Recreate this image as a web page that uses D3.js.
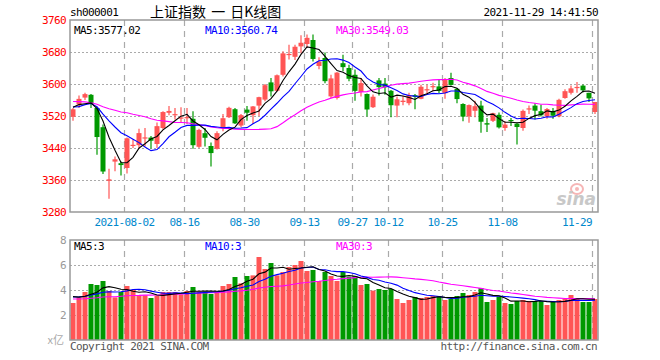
<!DOCTYPE html>
<html><head><meta charset="utf-8">
<script src="https://cdn.jsdelivr.net/npm/d3@7"></script>
<style>
html,body{margin:0;padding:0;background:#fff;}
svg{display:block;}
.mono{font-family:"DejaVu Sans Mono","Liberation Mono",monospace;font-size:11px;letter-spacing:-0.6px;}
</style></head>
<body>
<svg id="c" width="660" height="360"></svg>
<script>
const dates = ["2021-07-20","2021-07-21","2021-07-22","2021-07-23","2021-07-26","2021-07-27","2021-07-28","2021-07-29","2021-07-30",
"2021-08-02","2021-08-03","2021-08-04","2021-08-05","2021-08-06","2021-08-09","2021-08-10","2021-08-11","2021-08-12","2021-08-13",
"2021-08-16","2021-08-17","2021-08-18","2021-08-19","2021-08-20","2021-08-23","2021-08-24","2021-08-25","2021-08-26","2021-08-27",
"2021-08-30","2021-08-31","2021-09-01","2021-09-02","2021-09-03","2021-09-06","2021-09-07","2021-09-08","2021-09-09","2021-09-10",
"2021-09-13","2021-09-14","2021-09-15","2021-09-16","2021-09-17","2021-09-22","2021-09-23","2021-09-24",
"2021-09-27","2021-09-28","2021-09-29","2021-09-30","2021-10-08","2021-10-11",
"2021-10-12","2021-10-13","2021-10-14","2021-10-15","2021-10-18","2021-10-19","2021-10-20","2021-10-21","2021-10-22",
"2021-10-25","2021-10-26","2021-10-27","2021-10-28","2021-10-29","2021-11-01","2021-11-02","2021-11-03","2021-11-04","2021-11-05",
"2021-11-08","2021-11-09","2021-11-10","2021-11-11","2021-11-12","2021-11-15","2021-11-16","2021-11-17","2021-11-18","2021-11-19",
"2021-11-22","2021-11-23","2021-11-24","2021-11-25","2021-11-26","2021-11-29"];

const open = [3518,3549,3566,3573,3540,3492,3358,3406,3402,3390,3446,3447,3464,3466,3450,3490,3528,3523,3515,3516,
3513,3443,3477,3445,3438,3490,3517,3537,3496,3536,3522,3546,3561,3604,3583,3623,3673,3668,3694,3700,
3710,3645,3665,3569,3565,3652,3640,3623,3580,3575,3542,3609,3601,3583,3546,3555,3552,3572,3563,3584,
3592,3594,3577,3615,3588,3550,3519,3533,3546,3502,3508,3523,3490,3510,3501,3490,3537,3546,3532,3519,
3532,3519,3565,3578,3590,3596,3578,3530];
const high = [3540,3571,3578,3575,3542,3499,3388,3419,3406,3466,3461,3488,3490,3470,3504,3532,3545,3540,3542,3540,
3532,3488,3490,3454,3482,3525,3543,3540,3525,3545,3545,3568,3600,3615,3624,3682,3698,3698,3722,3724,
3724,3667,3679,3623,3630,3673,3648,3636,3615,3576,3574,3615,3615,3585,3569,3570,3578,3575,3598,3598,
3603,3611,3615,3628,3590,3552,3549,3558,3558,3515,3528,3529,3507,3515,3503,3536,3546,3552,3548,3540,
3540,3563,3587,3596,3605,3599,3578,3555];
const low = [3508,3540,3560,3540,3423,3375,3313,3382,3371,3376,3440,3440,3444,3439,3440,3486,3522,3511,3503,3500,
3438,3440,3444,3394,3436,3482,3515,3500,3492,3508,3500,3520,3557,3569,3581,3619,3661,3660,3677,3690,
3656,3637,3602,3565,3561,3632,3607,3558,3569,3519,3540,3571,3573,3517,3517,3547,3547,3537,3562,3573,
3582,3577,3563,3596,3552,3507,3503,3517,3478,3480,3505,3489,3483,3495,3449,3483,3525,3511,3519,3513,
3513,3517,3563,3574,3578,3579,3555,3525];
const close = [3536.79,3562.77,3574.73,3550.40,3467.44,3381.18,3361.59,3411.72,3397.36,3464.29,3447.99,3477.22,3466.56,3458.23,3494.63,
3529.93,3532.62,3524.74,3516.30,3517.34,3446.98,3485.29,3465.55,3427.33,3477.13,3514.47,3540.38,3501.66,3522.16,3528.15,
3543.94,3567.10,3597.04,3581.73,3621.86,3676.59,3675.19,3693.13,3703.11,3715.37,3662.60,3656.22,3607.09,3613.97,3628.49,
3642.22,3613.07,3582.83,3602.22,3536.29,3568.17,3592.17,3591.71,3546.94,3561.76,3558.28,3572.37,3568.14,3593.15,3587.00,
3594.78,3582.60,3609.86,3597.64,3562.31,3518.42,3547.34,3544.48,3505.63,3498.54,3526.87,3491.57,3498.63,3507.00,3492.46,
3532.79,3539.10,3533.30,3521.79,3537.37,3520.71,3560.37,3582.08,3589.09,3592.70,3584.18,3564.09,3555.04];
const volume = [2.96,3.41,3.84,4.48,4.40,4.72,3.92,3.41,3.84,4.32,4.00,3.55,3.57,3.36,3.55,3.84,3.84,3.84,3.65,3.92,
4.24,3.87,3.87,3.68,3.87,4.32,4.48,5.04,4.53,5.12,5.17,6.64,5.68,6.16,5.17,5.44,5.84,6.00,6.32,5.52,
5.60,4.72,5.44,5.12,4.72,5.44,5.07,5.12,4.40,4.48,3.95,4.08,4.00,4.08,3.28,2.96,3.20,3.44,3.36,3.44,
3.52,3.52,3.20,3.28,3.52,3.76,3.60,3.84,4.16,3.04,3.20,3.47,2.96,2.88,3.12,3.20,3.12,3.12,3.12,2.80,
3.04,3.20,3.28,3.60,3.36,3.04,3.04,3.28];
// closes and volumes of the 29 sessions before the first candle (used only for the moving averages)
const prevCloses = [3580.11,3591.40,3610.86,3589.75,3556.56,3518.33,3525.10,3525.10,3529.18,3557.41,3566.65,3566.22,3607.56,3606.37,3573.18,
3591.20,3588.78,3518.76,3534.32,3530.26,3553.72,3525.50,3524.09,3547.84,3566.42,3528.50,3564.59,3539.30,3539.12];
const prevVolumes = [3.3,3.2,3.4,3.1,3.0,3.3,3.2,2.9,3.1,3.2,3.3,3.0,3.4,3.3,3.1,3.2,3.5,3.1,3.2,3.0,3.4,3.5,3.3,3.5,3.4,3.6,3.5,3.7,3.6];

const priceTicks = [3760,3680,3600,3520,3440,3360,3280];
const volTicks = [8,6,4,2];
const tickDates = ["2021-08-02","2021-08-16","2021-08-30","2021-09-13","2021-09-27","2021-10-12","2021-10-25","2021-11-08","2021-11-29"];
const tickLabels = ["2021-08-02","08-16","08-30","09-13","09-27","10-12","10-25","11-08","11-29"];
const maPeriods = [5,10,30];
const maColors = ["#000000","#0000ff","#ff00ff"];

const svg = d3.select("#c");
const RED = "#ff5555", GREEN = "#009900", GRID = "#aaaaaa", FRAME = "#999999";
const L = 70, R = 598, T1 = 20, B1 = 212, T2 = 240, B2 = 340;

const x = d3.scaleBand().domain(dates).range([L + 0.5, R + 0.5]).padding(0);
const y = d3.scaleLinear().domain([3280, 3760]).range([B1, T1]);
const yv = d3.scaleLinear().domain([0, 8]).range([B2, T2]);
const cx = d => x(d) + 2.5;

function ma(series, prev, n) {
  const all = prev.concat(series);
  const off = prev.length;
  return series.map((_, i) => {
    const k = i + off;
    return d3.mean(all.slice(k - n + 1, k + 1));
  });
}
const up = close.map((c, i) => c >= open[i]);

// ---- header
svg.append("text").attr("class","mono").attr("x",70).attr("y",12).attr("dy","0.35em").attr("fill","#000").text("sh000001");
svg.append("text").attr("x",150).attr("y",12).attr("dy","0.35em").attr("fill","#000")
  .style("font-family","'Noto Sans CJK SC',sans-serif").style("font-size","14px").style("word-spacing","2px").text("上证指数 一 日K线图");
svg.append("text").attr("class","mono").attr("x",598).attr("y",12).attr("dy","0.35em").attr("text-anchor","end").attr("fill","#000").text("2021-11-29 14:41:50");

// ---- grids (main)
const g1 = svg.append("g");
g1.selectAll("line.h").data(priceTicks.slice(1,-1)).join("line")
  .attr("x1",L).attr("x2",R).attr("y1",d=>Math.round(y(d))+0.5).attr("y2",d=>Math.round(y(d))+0.5)
  .attr("stroke",GRID).attr("stroke-dasharray","2,2");
g1.selectAll("line.v").data(tickDates).join("line")
  .attr("x1",d=>x(d)).attr("x2",d=>x(d)).attr("y1",T1).attr("y2",B1)
  .attr("stroke",GRID).attr("stroke-width",1.2).attr("stroke-dasharray","6,5");

// volume grids
const g2 = svg.append("g");
g2.selectAll("line.h").data(volTicks.slice(1)).join("line")
  .attr("x1",L).attr("x2",R).attr("y1",d=>Math.round(yv(d))+0.5).attr("y2",d=>Math.round(yv(d))+0.5)
  .attr("stroke",GRID).attr("stroke-dasharray","2,2");
g2.selectAll("line.v").data(tickDates).join("line")
  .attr("x1",d=>x(d)).attr("x2",d=>x(d)).attr("y1",T2).attr("y2",B2)
  .attr("stroke",GRID).attr("stroke-width",1.2).attr("stroke-dasharray","6,5");

// ---- watermark
const wm = svg.append("g");
wm.append("ellipse").attr("cx",577).attr("cy",189).attr("rx",6).attr("ry",5)
  .attr("fill","none").attr("stroke","#f6b6b6").attr("stroke-width",2);
wm.append("circle").attr("cx",577).attr("cy",189).attr("r",2).attr("fill","#f6b6b6");
wm.append("text").attr("x",596).attr("y",205).attr("text-anchor","end")
  .style("font-family","'DejaVu Sans',sans-serif").style("font-size","17px").style("font-style","italic").style("font-weight","bold")
  .attr("fill","#c8c8c8").text("sina");

// ---- candles
const cg = svg.append("g");
dates.forEach((d, i) => {
  const col = up[i] ? RED : GREEN;
  cg.append("line").attr("x1",cx(d)).attr("x2",cx(d)).attr("y1",y(high[i])).attr("y2",y(low[i]))
    .attr("stroke",col).attr("stroke-width",1.2);
  const yt = y(Math.max(open[i], close[i])), yb = y(Math.min(open[i], close[i]));
  cg.append("rect").attr("x",x(d)).attr("width",5).attr("y",yt).attr("height",Math.max(1.2, yb - yt)).attr("fill",col);
});

// ---- price MA lines
const line = d3.line().x((_, i) => cx(dates[i])).y(v => y(v));
const maVals = maPeriods.map(n => ma(close, prevCloses, n));
[2,1,0].forEach(k => {
  svg.append("path").attr("d", line(maVals[k])).attr("fill","none").attr("stroke",maColors[k]).attr("stroke-width",1.1);
});

// ---- volume bars
const vg = svg.append("g");
vg.selectAll("rect").data(dates).join("rect")
  .attr("x",d=>x(d)).attr("width",5)
  .attr("y",(d,i)=>yv(volume[i])).attr("height",(d,i)=>B2 - yv(volume[i]))
  .attr("fill",(d,i)=>up[i] ? RED : GREEN);
const vline = d3.line().x((_, i) => cx(dates[i])).y(v => yv(v));
const vmaVals = maPeriods.map(n => ma(volume, prevVolumes, n));
[2,1,0].forEach(k => {
  svg.append("path").attr("d", vline(vmaVals[k])).attr("fill","none").attr("stroke",maColors[k]).attr("stroke-width",1.1);
});

// ---- frames
svg.append("rect").attr("x",L).attr("y",T1).attr("width",R-L).attr("height",B1-T1).attr("fill","none").attr("stroke",FRAME).attr("stroke-width",1.5);
svg.append("rect").attr("x",L).attr("y",T2).attr("width",R-L).attr("height",B2-T2).attr("fill","none").attr("stroke",FRAME).attr("stroke-width",1.5);

// ---- axes labels
svg.append("g").selectAll("text").data(priceTicks).join("text").attr("class","mono")
  .attr("x",66).attr("y",d=>y(d)).attr("dy","0.35em").attr("text-anchor","end").attr("fill","#ff0000").text(d=>d);
svg.append("g").selectAll("text").data(volTicks).join("text").attr("class","mono")
  .attr("x",66).attr("y",d=>yv(d)).attr("dy","0.35em").attr("text-anchor","end").attr("fill","#999").text(d=>d);
svg.append("text").attr("x",64).attr("y",340).attr("dy","0.35em").attr("text-anchor","end").attr("fill","#aaa")
  .style("font-family","'Noto Sans CJK SC',sans-serif").style("font-size","11px").text("x亿");

const dg = svg.append("g");
tickDates.forEach((d, i) => {
  const t = dg.append("text").attr("class","mono").attr("y",222).attr("dy","0.35em").attr("fill","#0088cc").text(tickLabels[i]);
  const w = t.node().getComputedTextLength();
  let xc = x(d);
  if (xc + w / 2 > R - 6) t.attr("x", R - 6).attr("text-anchor","end");
  else t.attr("x", xc).attr("text-anchor","middle");
});

// ---- MA legends
const fmt = d3.format(".2f");
const last = dates.length - 1;
const legX = [74, 205, 336];
maPeriods.forEach((n, k) => {
  svg.append("text").attr("class","mono").attr("x",legX[k]).attr("y",30).attr("dy","0.35em").attr("fill",maColors[k])
    .text("MA" + n + ":" + fmt(maVals[k][last]));
  svg.append("text").attr("class","mono").attr("x",legX[k]).attr("y",246).attr("dy","0.35em").attr("fill",maColors[k])
    .text("MA" + n + ":" + Math.round(vmaVals[k][last]));
});

// ---- footer
svg.append("text").attr("class","mono").attr("x",70).attr("y",346).attr("dy","0.35em").attr("fill","#555").text("Copyright 2021 SINA.COM");
svg.append("text").attr("class","mono").attr("x",597).attr("y",346).attr("dy","0.35em").attr("text-anchor","end").attr("fill","#555").text("http://finance.sina.com.cn");
</script>
</body></html>
